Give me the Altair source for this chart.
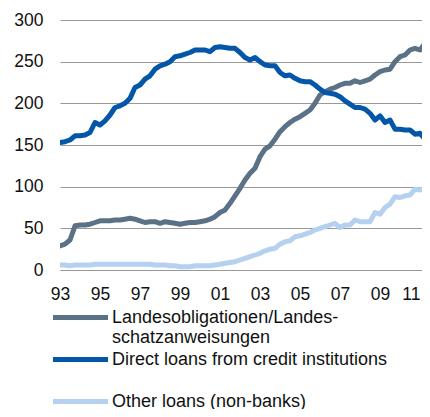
import altair as alt
import pandas as pd

S1 = "Landesobligationen/Landesschatzanweisungen"
S2 = "Direct loans from credit institutions"
S3 = "Other loans (non-banks)"

# quarterly observations, 1993 Q1 .. 2011 Q3
periods = [1993 + q / 4 for q in range(75)]

landes = [29, 31, 36, 53, 54, 54, 55, 57, 59, 59, 59, 60, 60, 61, 62, 61,
          59, 57, 58, 58, 56, 58, 57, 56, 55, 56, 57, 57, 58, 59, 61, 64,
          69, 72, 80, 89, 98, 108, 116, 122, 136, 145, 149, 157, 166, 172, 177, 181,
          184, 188, 192, 200, 210, 214, 217, 219, 222, 224, 224, 227, 225, 227, 229, 234,
          238, 240, 241, 250, 256, 258, 264, 266, 264, 272, 278]

direct = [153, 154, 156, 161, 161, 162, 165, 177, 174, 179, 186, 195, 197, 200, 206, 219,
          222, 229, 233, 241, 245, 247, 250, 256, 257, 259, 261, 264, 264, 264, 262, 267,
          268, 267, 266, 266, 261, 255, 252, 255, 250, 246, 245, 245, 237, 233, 234, 230,
          227, 226, 226, 222, 217, 213, 212, 211, 208, 203, 199, 195, 195, 193, 188, 180,
          185, 177, 180, 169, 169, 168, 168, 163, 164, 157, 153]

other = [6, 6, 5, 6, 6, 6, 6, 7, 7, 7, 7, 7, 7, 7, 7, 7,
         7, 7, 7, 6, 6, 6, 5, 5, 4, 4, 4, 5, 5, 5, 5, 6,
         7, 8, 9, 10, 12, 14, 16, 18, 20, 23, 25, 26, 31, 34, 35, 40,
         41, 43, 45, 48, 50, 52, 54, 56, 51, 54, 54, 60, 58, 58, 58, 69,
         67, 75, 79, 88, 87, 89, 90, 97, 96, 98, 98]

x_ticks = [1993, 1995, 1997, 1999, 2001, 2003, 2005, 2007, 2009, 2011]
y_ticks = [0, 50, 100, 150, 200, 250, 300]

series_names = [S1, S2, S3]
series_colors = ["#5b7186", "#0456a8", "#b5d1ef"]

rows = []
for name, vals in zip(series_names, [landes, direct, other]):
    for p, v in zip(periods, vals):
        rows.append({"period": p, "value": v, "series": name})
df = pd.DataFrame(rows)

label_expr = (
    "datum.label == '" + S1 + "' ? ['Landesobligationen/Landes-', 'schatzanweisungen'] : "
    "datum.label == '" + S2 + "' ? ['" + S2 + "', ''] : datum.label"
)

chart = alt.Chart(df).mark_line(strokeWidth=5, strokeJoin="round", strokeCap="round", clip=True).encode(
    x=alt.X("period:Q",
            scale=alt.Scale(domain=[1993, 2011.1], nice=False, zero=False),
            axis=alt.Axis(values=x_ticks, labelExpr="slice(toString(datum.value), 2)",
                          labelAlign={"condition": {"test": "datum.value >= 2011", "value": "right"},
                                      "value": "center"},
                          grid=False, ticks=False, domain=False, title=None,
                          labelFlush=False, labelOverlap=False, labelPadding=15,
                          labelFontSize=17.5, labelColor="#111111")),
    y=alt.Y("value:Q",
            scale=alt.Scale(domain=[0, 300], nice=False),
            axis=alt.Axis(values=y_ticks, grid=True, gridColor="#999999", gridWidth=1.2,
                          ticks=False, domain=False, title=None, labelPadding=17,
                          labelFontSize=17.5, labelColor="#111111")),
    color=alt.Color("series:N",
                    scale=alt.Scale(domain=series_names, range=series_colors),
                    sort=series_names,
                    legend=alt.Legend(orient="none", legendX=8, legendY=285, title=None,
                                      direction="vertical", symbolType="M-2.75,0H2.75",
                                      symbolSize=400, symbolStrokeWidth=5,
                                      labelOffset=19, padding=0, rowPadding=-6,
                                      labelFontSize=18, labelLimit=500,
                                      labelColor="#111111", labelExpr=label_expr)),
    order=alt.Order("period:Q"),
).properties(
    width=362, height=250,
    autosize=alt.AutoSizeParams(type="none"),
    padding={"left": 52, "top": 12, "right": 0, "bottom": 139},
).configure(
    font="Liberation Sans",
).configure_view(stroke=None)

chart.save("out.html", embed_options={"renderer": "svg", "actions": False})
